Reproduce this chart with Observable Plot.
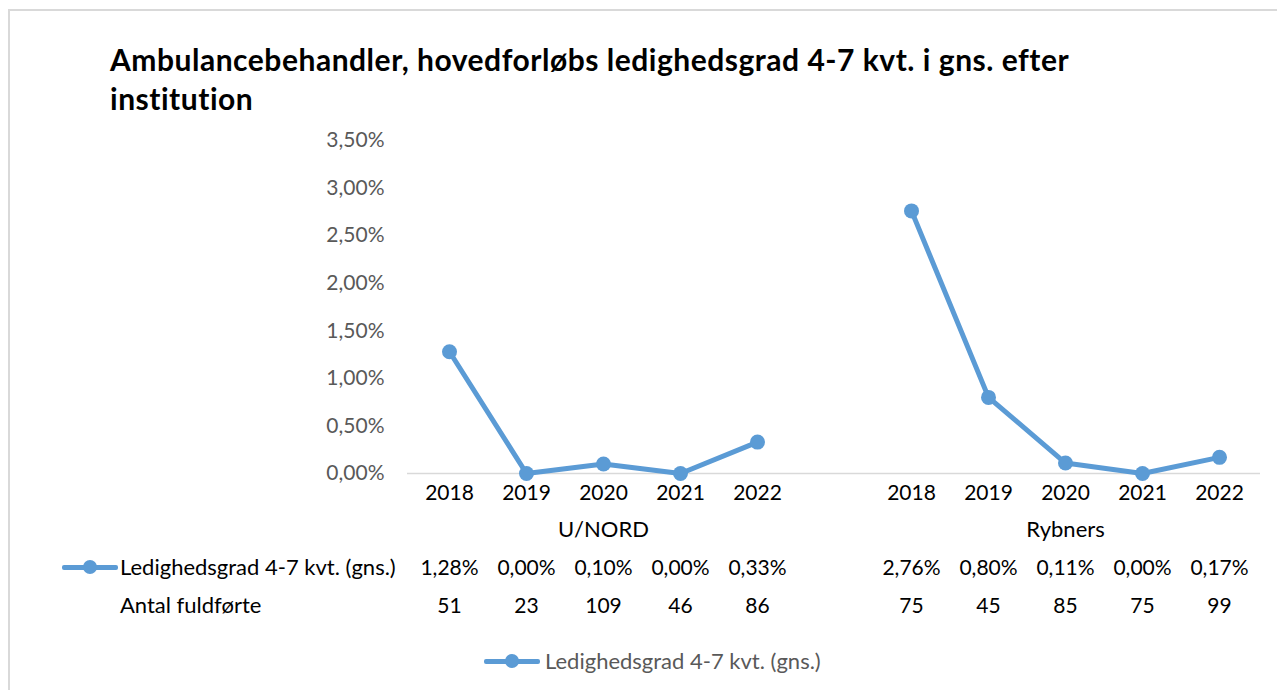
<!DOCTYPE html>
<html>
<head>
<meta charset="utf-8">
<script src="https://cdn.jsdelivr.net/npm/d3@7"></script>
<script src="https://cdn.jsdelivr.net/npm/@observablehq/plot@0.6"></script>
<style>
  html, body { margin: 0; padding: 0; background: #fff; }
  #wrap { position: relative; width: 1277px; height: 690px; overflow: hidden; font-family: Lato, "Open Sans", sans-serif; }
  #frame { position: absolute; left: 8px; top: 9px; width: 1275px; height: 690px; border-left: 2px solid #d9d9d9; border-top: 2px solid #d9d9d9; box-sizing: border-box; }
  #title { position: absolute; left: 110px; top: 40px; font-size: 30px; letter-spacing: 0.52px; font-weight: 700; line-height: 39px; color: #000; width: 1100px; }
  #chart { position: absolute; left: 0; top: 0; }
  .rowlab { position: absolute; left: 120px; font-size: 22px; line-height: 26px; color: #000; white-space: nowrap; }
  .key { position: absolute; width: 56px; height: 14px; }
  .key::before { content: ""; position: absolute; left: 0; right: 0; top: 5px; height: 5px; background: #5B9BD5; border-radius: 2px; }
  .key::after { content: ""; position: absolute; left: 21px; top: 0; width: 14px; height: 14px; border-radius: 50%; background: #5B9BD5; }
  #legtext { position: absolute; left: 545px; top: 648px; font-size: 22px; line-height: 26px; color: #595959; white-space: nowrap; }
</style>
</head>
<body>
<div id="wrap">
  <div id="frame"></div>
  <div id="chart"></div>
  <div id="title">Ambulancebehandler, hovedforløbs ledighedsgrad 4-7 kvt. i gns. efter<br>institution</div>
  <div class="key" style="left:62px; top:560px;"></div>
  <div class="rowlab" style="top:554px;">Ledighedsgrad 4-7 kvt. (gns.)</div>
  <div class="rowlab" style="top:592px;">Antal fuldførte</div>
  <div class="key" style="left:484px; top:654px;"></div>
  <div id="legtext">Ledighedsgrad 4-7 kvt. (gns.)</div>
</div>
<script>
const institutions = ["U/NORD", "Rybners"];
const years = [2018, 2019, 2020, 2021, 2022];
const rateUNORD = [0.0128, 0.0000, 0.0010, 0.0000, 0.0033];
const rateRybners = [0.0276, 0.0080, 0.0011, 0.0000, 0.0017];
const countUNORD = [51, 23, 109, 46, 86];
const countRybners = [75, 45, 85, 75, 99];
const yTicks = [0, 0.005, 0.01, 0.015, 0.02, 0.025, 0.03, 0.035];

const rates = [rateUNORD, rateRybners];
const counts = [countUNORD, countRybners];
const rows = [];
institutions.forEach((inst, i) => {
  years.forEach((yr, j) => {
    rows.push({inst, year: yr, key: inst + "|" + yr, rate: rates[i][j], count: counts[i][j]});
  });
});
const domain = [...years.map(y => "U/NORD|" + y), "gap", ...years.map(y => "Rybners|" + y)];
const groups = institutions.map(inst => ({inst, key: inst + "|" + years[2]}));

const pct = v => (v * 100).toFixed(2).replace(".", ",") + "%";

const chart = Plot.plot({
  width: 1277,
  height: 690,
  marginLeft: 407,
  marginRight: 17,
  marginTop: 140,
  marginBottom: 217,
  style: {fontFamily: "Lato, 'Open Sans', sans-serif", background: "transparent", overflow: "visible"},
  x: {type: "point", domain, padding: 0.5, label: null},
  y: {domain: [0, 0.035], label: null},
  marks: [
    Plot.axisY({ticks: yTicks, tickSize: 0, tickPadding: 23, tickFormat: pct, fontSize: 21, fill: "#595959", label: null}),
    Plot.axisX({tickSize: 0, tickPadding: 12, fontSize: 21, fill: "#000", tickFormat: d => d === "gap" ? "" : d.split("|")[1], label: null}),
    Plot.ruleY([0], {stroke: "#d9d9d9", strokeWidth: 1.5}),
    Plot.line(rows, {x: "key", y: "rate", z: "inst", stroke: "#5B9BD5", strokeWidth: 5, strokeLinejoin: "round"}),
    Plot.dot(rows, {x: "key", y: "rate", r: 7.5, fill: "#5B9BD5"}),
    Plot.text(groups, {x: "key", text: "inst", frameAnchor: "bottom", dy: 63, fontSize: 22, fill: "#000"}),
    Plot.text(rows, {x: "key", text: d => pct(d.rate), frameAnchor: "bottom", dy: 101, fontSize: 21, fill: "#000"}),
    Plot.text(rows, {x: "key", text: d => String(d.count), frameAnchor: "bottom", dy: 139, fontSize: 21, fill: "#000"})
  ]
});
document.getElementById("chart").appendChild(chart);
</script>
</body>
</html>
